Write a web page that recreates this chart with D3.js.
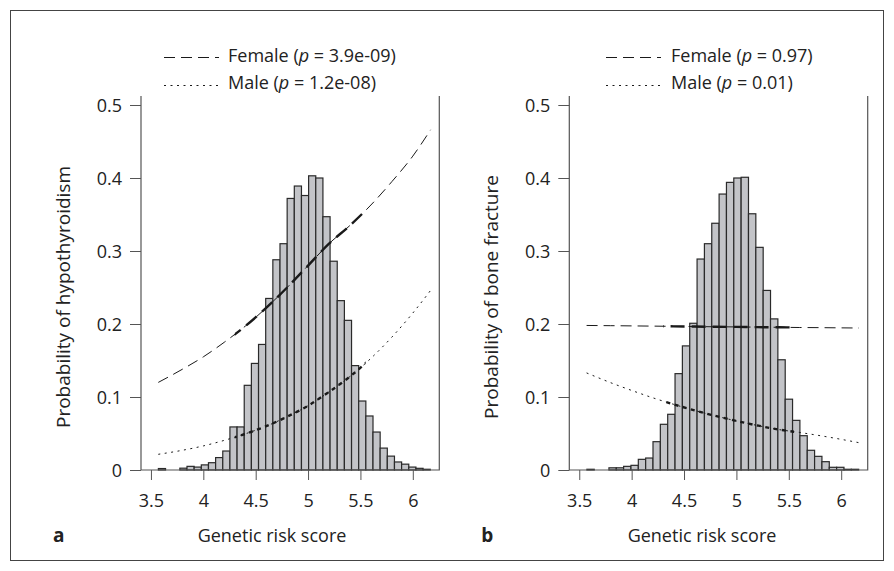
<!DOCTYPE html>
<html>
  <head>
    <title>Genetic risk score</title>
    <script src="https://cdn.jsdelivr.net/npm/d3@7"></script>
    <style>
      body { margin: 0; background: #fff; }
      text { font-family: 'Open Sans', sans-serif; fill: #222; }
    </style>
  </head>
  <body>
    <svg width="894" height="571" id="mainsvg"></svg>
    <script>
        // tick labels
        const xTicks = [3.5, 4, 4.5, 5, 5.5, 6];
        const yTicks = [0, 0.1, 0.2, 0.3, 0.4, 0.5];

        // histogram of the score (scaled), panel a and panel b
        const binStartA = 3.571, binWidthA = 0.0683;
        const histA = [0.002, 0, 0, 0.0025, 0.005, 0.004, 0.007, 0.010, 0.017, 0.026,
          0.059, 0.059, 0.116, 0.146, 0.172, 0.235, 0.288, 0.310, 0.372, 0.389,
          0.376, 0.403, 0.400, 0.347, 0.286, 0.232, 0.205, 0.143, 0.0945, 0.074,
          0.052, 0.030, 0.019, 0.011, 0.008, 0.004, 0.0023, 0.001];
        const binStartB = 3.573, binWidthB = 0.0701;
        const histB = [0.001, 0, 0, 0.003, 0.003, 0.005, 0.0064, 0.0146, 0.0164, 0.0388,
          0.0626, 0.0763, 0.132, 0.170, 0.201, 0.289, 0.310, 0.338, 0.378, 0.394,
          0.400, 0.401, 0.351, 0.305, 0.246, 0.207, 0.151, 0.097, 0.068, 0.047,
          0.027, 0.0187, 0.0114, 0.0037, 0.0037, 0.001, 0.001];

        // fitted probability curves
        const curveX = [3.57, 3.8, 4.0, 4.2, 4.4, 4.6, 4.8, 5.0, 5.2, 5.4, 5.6, 5.8, 6.0, 6.17];
        const femaleA = [0.120, 0.138, 0.155, 0.175, 0.197, 0.222, 0.250, 0.280, 0.310, 0.335, 0.363, 0.395, 0.430, 0.466];
        const maleA = [0.0215, 0.027, 0.033, 0.0406, 0.0495, 0.060, 0.073, 0.088, 0.107, 0.128, 0.153, 0.182, 0.215, 0.246];
        const femaleB = [0.198, 0.1977, 0.1974, 0.1971, 0.1968, 0.1965, 0.1962, 0.196, 0.1957, 0.1955, 0.1952, 0.195, 0.1947, 0.1945];
        const maleB = [0.133, 0.1196, 0.109, 0.099, 0.090, 0.0817, 0.0741, 0.0672, 0.061, 0.0555, 0.0515, 0.047, 0.042, 0.0374];

        // legend / labels
        const seriesNames = ['Female', 'Male'];
        const pValuesA = ['3.9e-09', '1.2e-08'];
        const pValuesB = ['0.97', '0.01'];
        const yTitles = ['Probability of hypothyroidism', 'Probability of bone fracture'];
        const xTitle = 'Genetic risk score';
        const panelTags = ['a', 'b'];

        const svg = d3.select('#mainsvg');

        // outer frame
        svg.append('rect').attr('x', 10.5).attr('y', 10.5).attr('width', 873).attr('height', 550)
          .attr('fill', 'none').attr('stroke', '#444').attr('stroke-width', 1);

        const yScale = d3.scaleLinear().domain([0, 0.5]).range([470, 105]);
        const plotTop = 96, plotBottom = 470;
        const thickRange = [4.3, 5.55];
        const styles = [
          {thin: '11,6', thick: '14,7'},   // female dashed
          {thin: '2,4.5', thick: '4,4.5'}  // male dotted
        ];

        function drawPanel(k, left, right, binStart, binWidth, hist, curves, pValues, legX, textX, titleX, ytitleX) {
          const g = svg.append('g');
          const x = d3.scaleLinear().domain([3.405, 6.253]).range([left, right]);

          // bars
          g.selectAll('rect.bar').data(hist.map((v, i) => ({x0: binStart + i * binWidth, v})).filter(d => d.v > 0))
            .join('rect').attr('class', 'bar')
            .attr('x', d => x(d.x0))
            .attr('width', d => x(d.x0 + binWidth) - x(d.x0))
            .attr('y', d => yScale(d.v))
            .attr('height', d => yScale(0) - yScale(d.v))
            .attr('fill', '#c3c4c8').attr('stroke', '#2a2a2a').attr('stroke-width', 1.2);

          // curves: thin over the full range, thicker where most scores lie
          const line = d3.line().x(d => x(d[0])).y(d => yScale(d[1])).curve(d3.curveMonotoneX);
          const clipId = 'clip' + k;
          svg.append('clipPath').attr('id', clipId).append('rect')
            .attr('x', x(thickRange[0])).attr('width', x(thickRange[1]) - x(thickRange[0]))
            .attr('y', plotTop).attr('height', plotBottom - plotTop);
          curves.forEach((vals, s) => {
            const pts = curveX.map((cx, i) => [cx, vals[i]]);
            g.append('path').attr('d', line(pts)).attr('fill', 'none')
              .attr('stroke', '#1a1a1a').attr('stroke-width', 1).attr('stroke-dasharray', styles[s].thin);
            g.append('path').attr('d', line(pts)).attr('fill', 'none').attr('clip-path', `url(#${clipId})`)
              .attr('stroke', '#1a1a1a').attr('stroke-width', 2.4).attr('stroke-dasharray', styles[s].thick);
          });

          // axes
          const ya = g.append('g').attr('transform', `translate(${left},0)`)
            .call(d3.axisLeft(yScale).tickValues(yTicks).tickSize(11).tickFormat(d3.format('')));
          ya.select('.domain').remove();
          ya.selectAll('line').attr('stroke', '#555');
          ya.selectAll('text').attr('x', -19).attr('dy', '0.35em').style('font-size', '18px')
            .style('font-family', "'Open Sans', sans-serif").attr('fill', '#222');

          const xa = g.append('g').attr('transform', `translate(0,${plotBottom})`)
            .call(d3.axisBottom(x).tickValues(xTicks).tickSize(10).tickFormat(d3.format('')));
          xa.select('.domain').remove();
          xa.selectAll('line').attr('stroke', '#555');
          xa.selectAll('text').attr('y', 37).attr('dy', 0).style('font-size', '18px')
            .style('font-family', "'Open Sans', sans-serif").attr('fill', '#222');

          // open-top box
          g.append('path').attr('d', `M${left},${plotTop}V${plotBottom}H${right}V${plotTop}`)
            .attr('fill', 'none').attr('stroke', '#555').attr('stroke-width', 1.2);

          // titles
          g.append('text').attr('x', titleX).attr('y', 542).attr('text-anchor', 'middle')
            .style('font-size', '18px').text(xTitle);
          g.append('text').attr('transform', `translate(${ytitleX},297) rotate(-90)`)
            .attr('text-anchor', 'middle').style('font-size', '19px').text(yTitles[k]);
          g.append('text').attr('x', left - 88).attr('y', 542)
            .style('font-size', '19px').style('font-weight', 'bold').text(panelTags[k]);

          // legend
          seriesNames.forEach((name, s) => {
            const ly = s === 0 ? 57.5 : 85.5;
            const ty = s === 0 ? 62 : 89;
            g.append('line').attr('x1', legX).attr('x2', legX + 55).attr('y1', ly).attr('y2', ly)
              .attr('stroke', '#1a1a1a').attr('stroke-width', 1).attr('stroke-dasharray', styles[s].thin);
            const t = g.append('text').attr('x', textX).attr('y', ty).style('font-size', '18px');
            t.append('tspan').text(name + ' (');
            t.append('tspan').style('font-style', 'italic').text('p');
            t.append('tspan').text(' = ' + pValues[s] + ')');
          });
        }

        drawPanel(0, 141, 439.3, binStartA, binWidthA, histA, [femaleA, maleA], pValuesA, 164, 228, 272, 70);
        drawPanel(1, 569.3, 867.7, binStartB, binWidthB, histB, [femaleB, maleB], pValuesB, 606, 671, 702, 498);
    </script>
  </body>
</html>
